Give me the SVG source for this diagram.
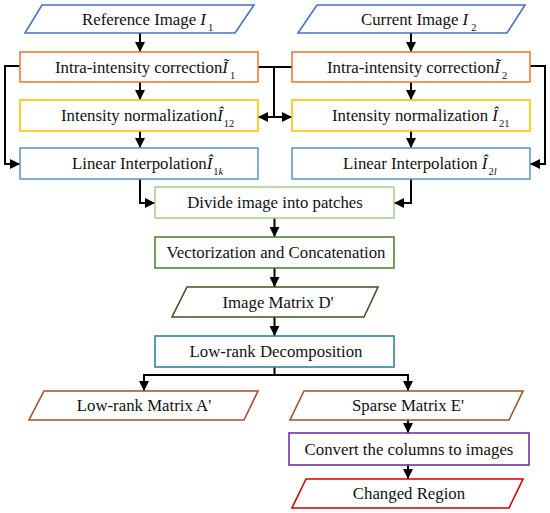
<svg xmlns="http://www.w3.org/2000/svg" width="550" height="513" viewBox="0 0 550 513">
<style>
text{font-family:"Liberation Serif","Times New Roman",Times,serif;font-size:16.8px;fill:#111}
.c{text-anchor:middle}
.n{fill:#fff;stroke-width:1.6}
.i{font-style:italic}
.s{font-size:10.5px}
.w{fill:none;stroke:#000;stroke-width:2}
</style>
<defs>
<marker id="ah" viewBox="0 0 10 10" refX="10" refY="5" markerWidth="10" markerHeight="10" markerUnits="userSpaceOnUse" orient="auto-start-reverse">
<path d="M0,0 L10,5 L0,10 z" fill="#000"/>
</marker>
</defs>
<g id="connectors">
<path class="w" d="M140,33 V52" marker-end="url(#ah)"/>
<path class="w" d="M140,82 V100" marker-end="url(#ah)"/>
<path class="w" d="M140,131 V148" marker-end="url(#ah)"/>
<path class="w" d="M411,33 V52" marker-end="url(#ah)"/>
<path class="w" d="M411,82 V100" marker-end="url(#ah)"/>
<path class="w" d="M411,131 V148" marker-end="url(#ah)"/>
<path class="w" d="M20,66 H5 V164 H20" marker-end="url(#ah)"/>
<path class="w" d="M530,66 H545 V164 H530" marker-end="url(#ah)"/>
<path class="w" d="M258,67 H292 M274,67 V117"/>
<path class="w" d="M258,117 H292" marker-start="url(#ah)" marker-end="url(#ah)"/>
<path class="w" d="M140,179 V203 H155" marker-end="url(#ah)"/>
<path class="w" d="M411,179 V203 H394" marker-end="url(#ah)"/>
<path class="w" d="M274.5,218 V237" marker-end="url(#ah)"/>
<path class="w" d="M274.5,268 V287" marker-end="url(#ah)"/>
<path class="w" d="M274.5,317 V336" marker-end="url(#ah)"/>
<path class="w" d="M274.5,367 V375 M144,375 H408"/>
<path class="w" d="M144,374 V391" marker-end="url(#ah)"/>
<path class="w" d="M408,374 V391" marker-end="url(#ah)"/>
<path class="w" d="M408,419 V433" marker-end="url(#ah)"/>
<path class="w" d="M408,465 V479" marker-end="url(#ah)"/>
</g>
<g id="ref">
<polygon class="n" stroke="#4472C4" points="42,5 254,5 235,33 25,33"/>
<text x="82" y="25">Reference Image <tspan class="i">I</tspan><tspan class="s" dx="2" dy="6">1</tspan></text>
</g>
<g id="cur">
<polygon class="n" stroke="#4472C4" points="317,5 525,5 507,33 298,33"/>
<text x="361" y="25">Current Image <tspan class="i">I</tspan><tspan class="s" dx="3" dy="6">2</tspan></text>
</g>
<g id="intra1">
<rect class="n" stroke="#ED7D31" x="20" y="52" width="238" height="30"/>
<text x="55" y="73">Intra-intensity correction<tspan class="i">Ĩ</tspan><tspan class="s" dx="2" dy="6">1</tspan></text>
</g>
<g id="intra2">
<rect class="n" stroke="#ED7D31" x="292" y="52" width="238" height="30"/>
<text x="327" y="73">Intra-intensity correction<tspan class="i">Ĩ</tspan><tspan class="s" dx="2" dy="6">2</tspan></text>
</g>
<g id="norm1">
<rect class="n" stroke="#FFC000" x="20" y="100" width="238" height="31"/>
<text x="61" y="121">Intensity normalization<tspan class="i">Î</tspan><tspan class="s" dx="1" dy="6">12</tspan></text>
</g>
<g id="norm2">
<rect class="n" stroke="#FFC000" x="292" y="100" width="238" height="31"/>
<text x="332" y="121">Intensity normalization <tspan class="i">Î</tspan><tspan class="s" dx="1" dy="6">21</tspan></text>
</g>
<g id="lin1">
<rect class="n" stroke="#5B9BD5" x="20" y="148" width="238" height="31"/>
<text x="72" y="169">Linear Interpolation<tspan class="i">Î</tspan><tspan class="s" dx="1" dy="6">1<tspan class="i">k</tspan></tspan></text>
</g>
<g id="lin2">
<rect class="n" stroke="#5B9BD5" x="292" y="148" width="238" height="31"/>
<text x="343" y="169">Linear Interpolation <tspan class="i">Î</tspan><tspan class="s" dx="1" dy="6">2<tspan class="i">l</tspan></tspan></text>
</g>
<g id="divide">
<rect class="n" stroke="#A9D18E" x="155" y="187" width="239" height="31"/>
<text class="c" x="275" y="208">Divide image into patches</text>
</g>
<g id="vector">
<rect class="n" stroke="#548235" x="155" y="237" width="239" height="31"/>
<text class="c" x="276" y="258">Vectorization and Concatenation</text>
</g>
<g id="matrixD">
<polygon class="n" stroke="#385723" points="187,287 378,287 364,317 172,317"/>
<text class="c" x="278" y="308">Image Matrix D'</text>
</g>
<g id="lowrank">
<rect class="n" stroke="#31849B" x="155" y="336" width="239" height="31"/>
<text class="c" x="276" y="357">Low-rank Decomposition</text>
</g>
<g id="matrixA">
<polygon class="n" stroke="#A0522D" points="44,391 258,391 244,420 29,420"/>
<text class="c" x="144" y="411">Low-rank Matrix A'</text>
</g>
<g id="matrixE">
<polygon class="n" stroke="#A0522D" points="304,391 523,391 509,420 290,420"/>
<text class="c" x="408" y="411">Sparse Matrix E'</text>
</g>
<g id="convert">
<rect class="n" stroke="#7030A0" x="289" y="433" width="240" height="32"/>
<text class="c" x="409" y="455">Convert the columns to images</text>
</g>
<g id="changed">
<polygon class="n" stroke="#D00000" points="306,479 523,479 509,508 292,508"/>
<text class="c" x="409" y="499">Changed Region</text>
</g>
</svg>
